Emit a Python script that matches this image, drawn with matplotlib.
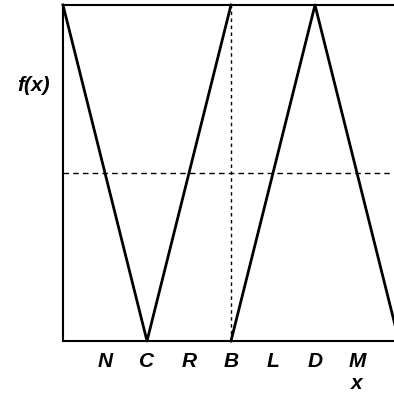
import numpy as np
import matplotlib.pyplot as plt

# two tent-shaped branches of f(x)
branch1_x = [0, 2, 4]
branch1_y = [1, 0, 1]
branch2_x = [4, 6, 8]
branch2_y = [0, 1, 0]

tick_pos = [1, 2, 3, 4, 5, 6, 7]
tick_labels = ["N", "C", "R", "B", "L", "D", "M"]

font = dict(family="Liberation Sans", weight="bold", style="italic")

fig = plt.figure(figsize=(3.94, 3.94), dpi=100)
ax = fig.add_axes([63 / 394, 53 / 394, 336 / 394, 336 / 394])

ax.plot(branch1_x, branch1_y, color="black", lw=2, clip_on=False)
ax.plot(branch2_x, branch2_y, color="black", lw=2, clip_on=False)
ax.axhline(0.5, color="black", lw=1, ls=(0, (4, 3)))
ax.plot([4, 4], [0, 1], color="black", lw=1, ls=(0, (2.5, 2.5)))

ax.set_xlim(0, 8)
ax.set_ylim(0, 1)
ax.set_xticks(tick_pos)
ax.set_xticklabels(tick_labels, fontsize=15, **font)
ax.set_yticks([])
ax.tick_params(axis="x", length=0, pad=8)
for s in ax.spines.values():
    s.set_linewidth(1.5)

ax.text(7, -0.126, "x", ha="center", va="center", fontsize=15, **font)
ax.text(-0.7, 0.76, "f(x)", ha="center", va="center", fontsize=15, **font)

fig.savefig("out.png", dpi=100)
